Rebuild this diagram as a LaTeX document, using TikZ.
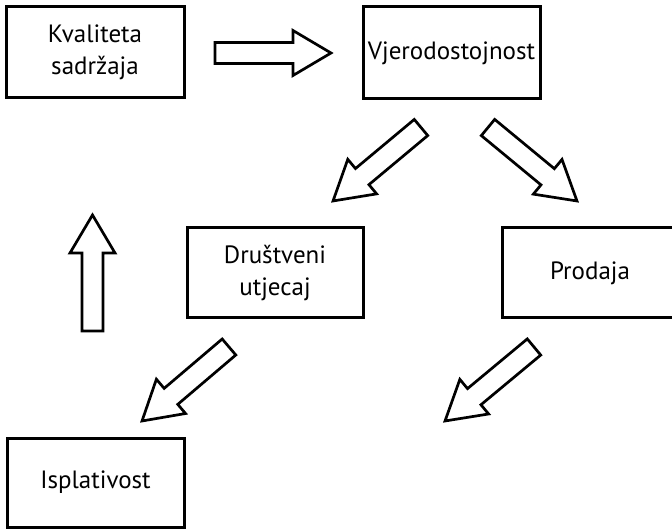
\documentclass[tikz,border=0pt]{standalone}
\usepackage{fontspec}
\setmainfont{PT Sans}
\usetikzlibrary{calc}
\tikzset{
  box/.style={draw, line width=3pt, minimum width=#1, minimum height=90pt, inner sep=0pt,
    align=center, font=\fontsize{25}{32}\selectfont},
  box/.default=177pt,
  barrow/.style={draw, line width=2.7pt, line join=miter, fill=white}
}
\newcommand{\blockarrow}[2]{%
  \path let \p1=(#1), \p2=(#2), \n1={atan2(\y2-\y1,\x2-\x1)}, \n2={veclen(\x2-\x1,\y2-\y1)} in
    [barrow, shift={(\p1)}, rotate=\n1]
    (0pt,-10.5pt) -- ({\n2-38pt},-10.5pt) -- ({\n2-38pt},-22.5pt) -- (\n2,0pt)
    -- ({\n2-38pt},22.5pt) -- ({\n2-38pt},10.5pt) -- (0pt,10.5pt) -- cycle;}
\begin{document}
\begin{tikzpicture}[x=1pt,y=-1pt]
\useasboundingbox (0,0) rectangle (672,529);
\node[box=178pt, minimum height=91pt] (kval) at (95,52.5) {Kvaliteta\\sadržaja};
\node[box=177pt, minimum height=92pt] (vjer) at (451.5,53) {Vjerodostojnost};
\node[box=176pt] (drus) at (275,273) {Društveni\\utjecaj};
\node[box=176pt] (prod) at (590,273) {Prodaja};
\node[box=177pt, minimum height=89pt] (ispl) at (95.5,482.5) {Isplativost};
% arrow anchors
\coordinate (a1t) at (215,53);  \coordinate (a1h) at (331,53);
\coordinate (a2t) at (421,127.5); \coordinate (a2h) at (333,201);
\coordinate (a3t) at (488,127.5); \coordinate (a3h) at (577,201);
\coordinate (a4t) at (92.5,331); \coordinate (a4h) at (92.5,215);
\coordinate (a5t) at (229,347); \coordinate (a5h) at (142,421);
\coordinate (a6t) at (534,347); \coordinate (a6h) at (445,421);
\blockarrow{a1t}{a1h}
\blockarrow{a2t}{a2h}
\blockarrow{a3t}{a3h}
\blockarrow{a4t}{a4h}
\blockarrow{a5t}{a5h}
\blockarrow{a6t}{a6h}
\end{tikzpicture}
\end{document}
